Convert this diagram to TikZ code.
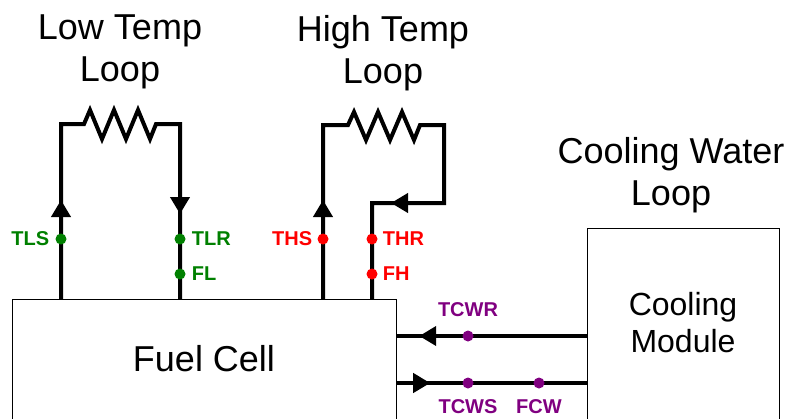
\documentclass[tikz,border=0pt]{standalone}
\usepackage{fontspec}
\setmainfont{Liberation Sans}
\usetikzlibrary{arrows.meta,positioning,decorations.markings}
\definecolor{lowgreen}{RGB}{0,128,0}
\definecolor{highred}{RGB}{255,0,0}
\definecolor{cwpurple}{RGB}{128,0,128}
\def\r{5.5pt}
\tikzset{
	block/.style={
		rectangle,
		draw=black,
		line width=1.2pt,
		inner sep=0pt,
	},
	title/.style={
		align=center,
		inner sep=0pt,
		font=\fontsize{36}{42}\selectfont,
	},
	pipe/.style={
		line width=4pt,
		line join=miter,
	},
	flowtip/.tip={Triangle[length=17pt,width=19pt]},
	arrowat/.style={
		postaction={
			decorate,
			decoration={
				markings,
				mark=at position #1 with {\arrow{flowtip}}
			}
		}
	},
	sensor/.style={
		circle,
		fill=#1,
		inner sep=0pt,
		minimum size=2*\r,
	},
	tag/.style={
		font=\fontsize{20}{24}\selectfont\bfseries,
		text=#1,
		inner sep=0pt,
	},
}
\begin{document}
\begin{tikzpicture}[x=1pt,y=-1pt]
    \clip (0,0) rectangle (791,418);

    % blocks and titles
    \node[block, minimum width=384pt, minimum height=160pt, anchor=north west] (fc) at (12,299) {};
    \node[block, minimum width=192pt, minimum height=230pt, anchor=north west] (cm) at (587,228) {};
    \node[title] (fcname) at (204,358.5) {Fuel Cell};
    \node[title, font=\fontsize{32}{37}\selectfont, anchor=north] (cmname) at (683,292) {Cooling\\Module};
    \node[title, anchor=north] (lowname) at (120,15) {Low Temp\\Loop};
    \node[title, anchor=north] (highname) at (383,15) {High Temp\\Loop};
    \node[title, anchor=north] (cwname) at (671,137) {Cooling Water\\Loop};

    % corners of the loops
    \coordinate (lowS) at (61,124);
    \coordinate (lowR) at (180,124);
    \coordinate (highS) at (323,125);
    \coordinate (highR) at (444,125);
    \coordinate (highT) at (372,203);
    \coordinate (cwR) at (587,336);
    \coordinate (cwS) at (587,383);

    \draw[pipe, arrowat=99pt, arrowat=-85pt] (fc.north -| lowS) -- (lowS) -- ++(23,0)
        -- ++(6,-14) -- ++(12,29) -- ++(12,-29) -- ++(12,29) -- ++(12,-29) -- ++(12,29) -- ++(6,-15)
        -- (lowR) -- (fc.north -| lowR);
    \draw[pipe, arrowat=99pt, arrowat=-115pt] (fc.north -| highS) -- (highS) -- ++(25,0)
        -- ++(6,-13) -- ++(12,28) -- ++(12,-28) -- ++(12,28) -- ++(12,-28) -- ++(12,28) -- ++(6,-15)
        -- (highR) -- (highR |- highT) -- (highT) -- (fc.north -| highT);
    \draw[pipe, arrowat=-22pt] (cwR) -- (fc.east |- cwR);
    \draw[pipe, arrowat=33pt] (fc.east |- cwS) -- (cwS);

    % sensors
    \node[sensor=lowgreen] (tls) at (61,239) {};
    \node[sensor=lowgreen] (tlr) at (180,239) {};
    \node[sensor=lowgreen] (fl) at (180,274) {};
    \node[sensor=highred] (ths) at (323,239) {};
    \node[sensor=highred] (thr) at (372,239) {};
    \node[sensor=highred] (fh) at (372,274) {};
    \node[sensor=cwpurple] (tcwr) at (468,336) {};
    \node[sensor=cwpurple] (tcws) at (468,383) {};
    \node[sensor=cwpurple] (fcw) at (539,383) {};

    \node[tag=lowgreen, left=6pt of tls] (tlsT) {TLS};
    \node[tag=lowgreen, right=6pt of tlr] (tlrT) {TLR};
    \node[tag=lowgreen, right=6pt of fl] (flT) {FL};
    \node[tag=highred, left=5pt of ths] (thsT) {THS};
    \node[tag=highred, right=5pt of thr] (thrT) {THR};
    \node[tag=highred, right=5pt of fh] (fhT) {FH};
    \node[tag=cwpurple, above=13pt of tcwr] (tcwrT) {TCWR};
    \node[tag=cwpurple, below=11pt of tcws] (tcwsT) {TCWS};
    \node[tag=cwpurple, below=11pt of fcw] (fcwT) {FCW};
\end{tikzpicture}
\end{document}
